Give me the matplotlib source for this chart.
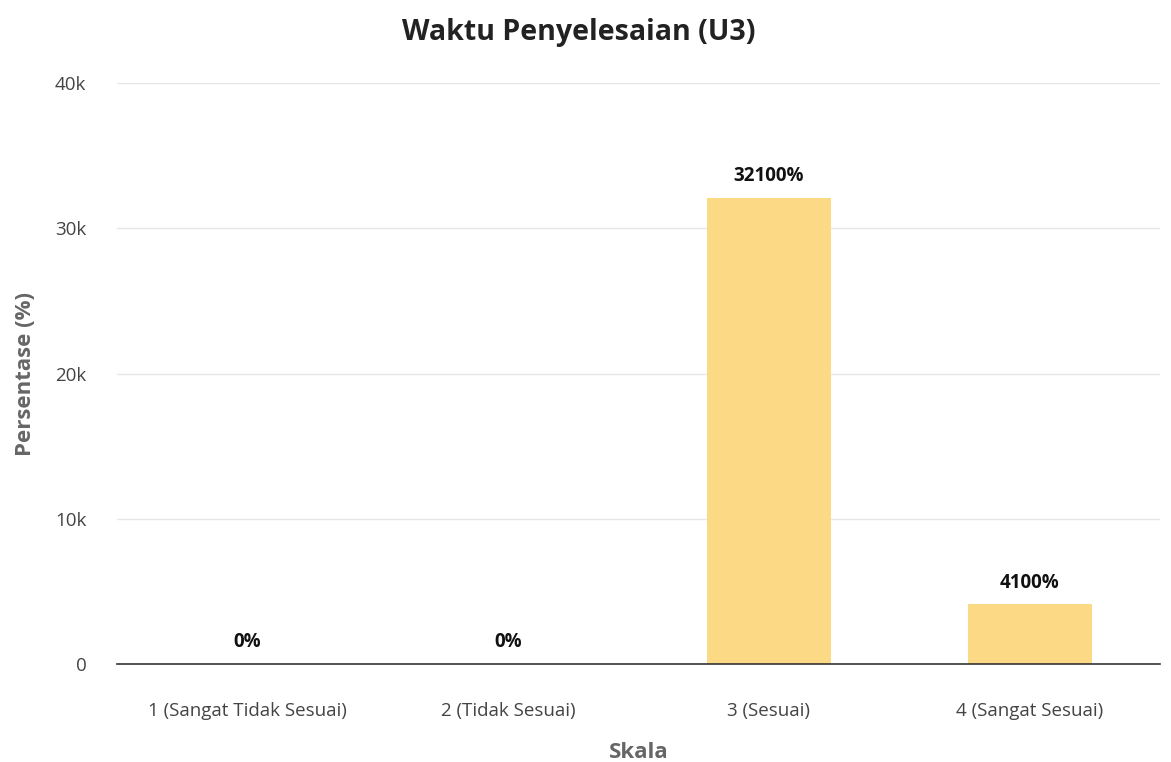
import matplotlib.pyplot as plt
from matplotlib.ticker import FuncFormatter

# Data
categories = ["1 (Sangat Tidak Sesuai)", "2 (Tidak Sesuai)", "3 (Sesuai)", "4 (Sangat Sesuai)"]
values = [0, 0, 32100, 4100]
labels = ["0%", "0%", "32100%", "4100%"]

plt.rcParams['font.family'] = ['Open Sans', 'DejaVu Sans']

fig = plt.figure(figsize=(11.71, 7.62), dpi=100)
ax = fig.add_axes([0.0999, 0.1286, 0.8907, 0.7624])

x = range(len(categories))
ax.bar(x, values, width=0.475, color="#fcd984", zorder=2)

# Value labels above each bar
for i, v in enumerate(values):
    ax.text(i, v + 1500, labels[i], ha="center", va="center",
            fontsize=13.5, fontweight="bold", color="#111111", zorder=3)

ax.set_xlim(-0.5, len(categories) - 0.5)
ax.set_ylim(0, 40000)
ax.set_yticks([0, 10000, 20000, 30000, 40000])
ax.yaxis.set_major_formatter(FuncFormatter(lambda v, p: "0" if v == 0 else f"{int(v/1000)}k"))
ax.set_xticks(list(x))
ax.set_xticklabels(categories)

ax.grid(axis="y", color="#e6e6e6", linewidth=1, zorder=0)
for s in ["top", "right", "left"]:
    ax.spines[s].set_visible(False)
ax.spines["bottom"].set_color("#333333")
ax.spines["bottom"].set_linewidth(1.2)
ax.tick_params(axis="both", length=0, labelsize=13.5, colors="#444444")
ax.tick_params(axis="x", pad=27)
ax.tick_params(axis="y", pad=22)

fig.text(0.494, 0.958, "Waktu Penyelesaian (U3)", ha="center", va="center",
         fontsize=20.5, fontweight="bold", color="#222222")
ax.set_xlabel("Skala", fontsize=16, fontweight="bold", color="#666666", labelpad=16)
ax.set_ylabel("Persentase (%)", fontsize=16, fontweight="bold", color="#666666", labelpad=14)

fig.savefig("out.png", dpi=100)
